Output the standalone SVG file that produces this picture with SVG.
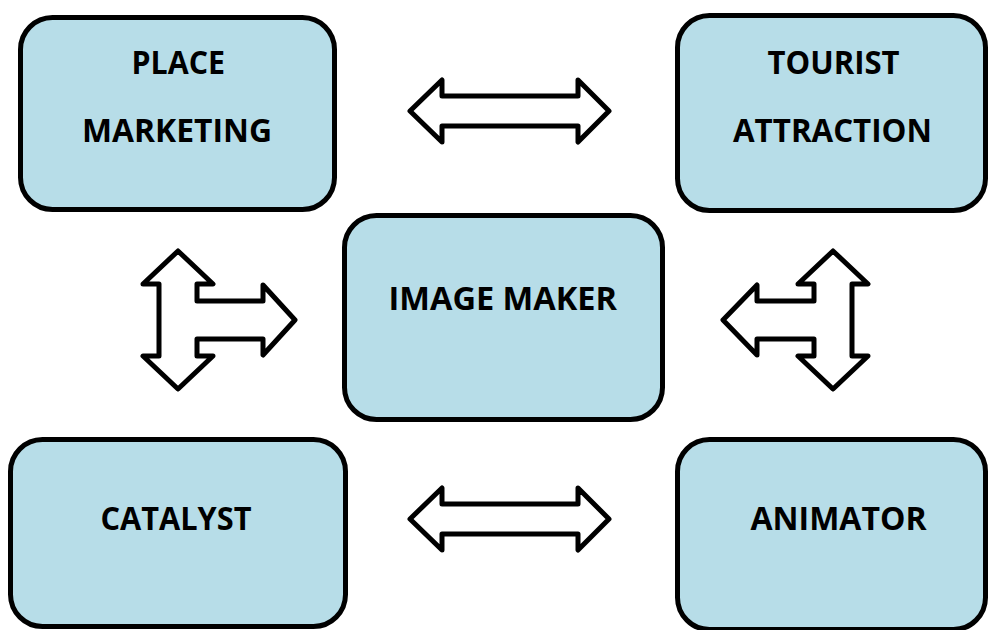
<svg xmlns="http://www.w3.org/2000/svg" width="989" height="630" viewBox="0 0 989 630">
<style>
.box{fill:#b7dde8;stroke:#000;stroke-width:5}
.lbl{font-family:"Open Sans",Lato,"Liberation Sans",sans-serif;font-weight:bold;font-size:32px;fill:#000}
.arr{fill:#fff;stroke:#000;stroke-width:5;stroke-linejoin:round}
</style>
<rect width="989" height="630" fill="#fff"/>
<g id="place-marketing">
<rect class="box" x="20.5" y="17.5" width="314" height="192" rx="32"/>
<text class="lbl" x="131.5" y="73.5" textLength="93.5" lengthAdjust="spacingAndGlyphs">PLACE</text>
<text class="lbl" x="82" y="142" textLength="190" lengthAdjust="spacingAndGlyphs">MARKETING</text>
</g>
<g id="tourist-attraction">
<rect class="box" x="677.5" y="15.5" width="308" height="195" rx="32"/>
<text class="lbl" x="767.5" y="74" textLength="132" lengthAdjust="spacingAndGlyphs">TOURIST</text>
<text class="lbl" x="733" y="141.5" textLength="199" lengthAdjust="spacingAndGlyphs">ATTRACTION</text>
</g>
<g id="image-maker">
<rect class="box" x="344.5" y="215.5" width="318" height="204" rx="32"/>
<text class="lbl" x="388.5" y="310" textLength="228.5" lengthAdjust="spacingAndGlyphs">IMAGE MAKER</text>
</g>
<g id="catalyst">
<rect class="box" x="10.5" y="439.5" width="335" height="187" rx="32"/>
<text class="lbl" x="100.5" y="529.5" textLength="151" lengthAdjust="spacingAndGlyphs">CATALYST</text>
</g>
<g id="animator">
<rect class="box" x="677.5" y="439.5" width="308" height="190" rx="32"/>
<text class="lbl" x="750.5" y="530" textLength="176" lengthAdjust="spacingAndGlyphs">ANIMATOR</text>
</g>
<g id="connectors">
<path class="arr" d="M410,111 L442,80 L442,96 L578,96 L578,80 L609,111 L578,142 L578,126 L442,126 L442,142 Z"/>
<path class="arr" d="M410,519 L442,488 L442,504 L578,504 L578,488 L609,519 L578,550 L578,534 L442,534 L442,550 Z"/>
<path class="arr" d="M178,251 L213,284 L197,284 L197,301 L263,301 L263,285 L295,320 L263,355 L263,339 L197,339 L197,356 L213,356 L178,389 L143,356 L159,356 L159,284 L143,284 Z"/>
<path class="arr" d="M833,251 L868,284 L852,284 L852,356 L868,356 L833,389 L798,356 L814,356 L814,339 L757,339 L757,355 L723,320 L757,285 L757,301 L814,301 L814,284 L798,284 Z"/>
</g>
</svg>
